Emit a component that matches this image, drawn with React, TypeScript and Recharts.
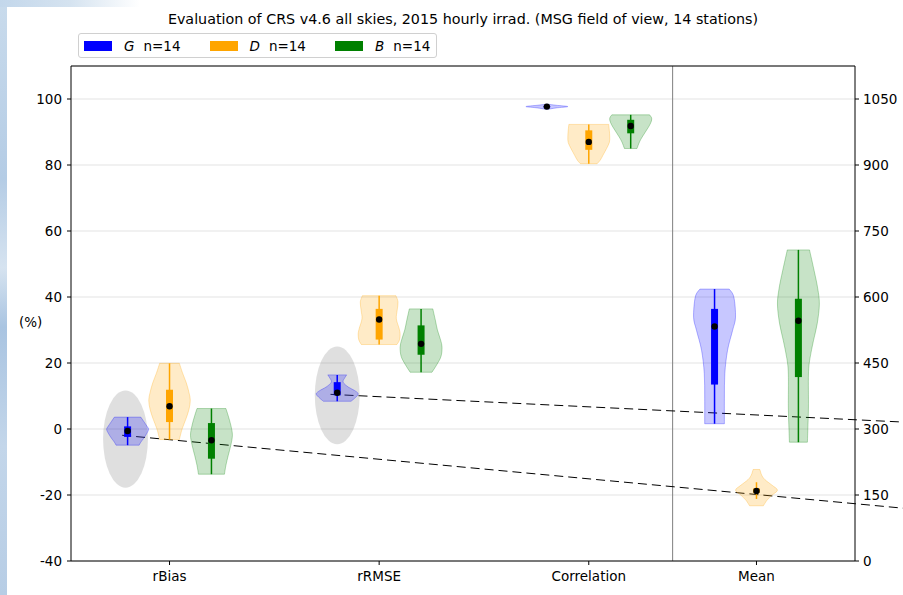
import React from 'react';
import { ComposedChart, XAxis, YAxis, CartesianGrid, Scatter, ReferenceLine } from 'recharts';

const FONT = '"DejaVu Sans", sans-serif';

const CATEGORIES = ['rBias', 'rRMSE', 'Correlation', 'Mean'];
const CATEGORY_POS = [1, 2, 3, 3.8];
const COMPONENTS = ['G', 'D', 'B'];
const COMPONENT_COLORS = ['#0000ff', '#ffa500', '#008000'];
const COMPONENT_SHIFT = [-0.2, 0, 0.2];
const STATIONS = [14, 14, 14];

const PCT_TICKS = [-40, -20, 0, 20, 40, 60, 80, 100];
const IRRAD_TICKS = [0, 150, 300, 450, 600, 750, 900, 1050];
const PCT_DOMAIN = [-40, 110];
const IRRAD_DOMAIN = [0, 1125];
const X_DOMAIN = [0.53, 4.27];
const PANEL_SPLIT = 3.4;
const VIOLIN_HALF_WIDTH = 0.1;

// per component (G, D, B): [min, q1, centre, q3, max]
const RBIAS_STATS = [
  [-4.9, -2.4, -0.6, 0.8, 3.6],
  [-3.2, 2.1, 6.9, 11.9, 19.9],
  [-13.7, -9.0, -3.4, 1.8, 6.2],
];
const RRMSE_STATS = [
  [8.4, 10.2, 11.0, 14.2, 16.4],
  [25.6, 27.1, 33.2, 36.4, 40.4],
  [17.2, 22.5, 25.8, 31.4, 36.4],
];
const CORR_STATS = [
  [97.2, 97.5, 97.7, 97.8, 98.1],
  [80.4, 84.6, 87.0, 90.5, 92.3],
  [85.0, 89.6, 91.8, 93.7, 95.2],
];
// W/m², right-hand axis
const MEAN_STATS = [
  [312, 401, 533, 573, 618],
  [141, 155, 159, 165, 179],
  [270, 418, 546, 596, 707],
];

// density outlines: [value, density relative to the widest point]
const RBIAS_KDE = [
  [[3.6, 0.63], [2.2, 0.78], [0.8, 0.93], [-0.1, 1.0], [-1.3, 0.92], [-2.8, 0.77], [-4.0, 0.63], [-4.9, 0.55]],
  [[19.9, 0.47], [17, 0.62], [14, 0.8], [11, 0.93], [8.7, 0.99], [6, 0.93], [3, 0.78], [0, 0.6], [-3.2, 0.47]],
  [[6.2, 0.69], [4, 0.8], [1, 0.93], [-1.9, 1.0], [-5, 0.92], [-8, 0.8], [-11, 0.69], [-13.7, 0.62]],
];
const RRMSE_KDE = [
  [[16.4, 0.45], [15.5, 0.36], [14.2, 0.28], [12.7, 0.53], [11.7, 0.82], [10.7, 1.0], [9.6, 0.88], [8.4, 0.66]],
  [[40.4, 0.8], [38.5, 0.9], [36, 0.86], [33.4, 0.82], [30.5, 0.95], [28.8, 1.0], [27, 0.97], [25.6, 0.85]],
  [[36.4, 0.56], [33, 0.68], [30, 0.78], [27, 0.93], [24.8, 1.0], [22, 0.95], [19.5, 0.75], [17.2, 0.52]],
];
const CORR_KDE = [
  [[98.4, 0.08], [98.1, 0.45], [97.7, 1.0], [97.3, 0.45], [96.9, 0.08]],
  [[92.3, 0.95], [90.5, 0.98], [88.5, 1.0], [86.8, 0.98], [85, 0.85], [83, 0.68], [81.5, 0.55], [80.4, 0.4]],
  [[95.2, 0.9], [94.2, 1.0], [93, 0.97], [91.5, 0.85], [90, 0.7], [88.5, 0.55], [87, 0.42], [85, 0.3]],
];
const MEAN_KDE = [
  [[618, 0.7], [600, 0.92], [554, 1.0], [524, 0.86], [479, 0.62], [426, 0.49], [370, 0.47], [312, 0.47]],
  [[208, 0.16], [195, 0.25], [184.6, 0.41], [172, 0.75], [161, 1.0], [150, 0.75], [138, 0.5], [125.5, 0.33]],
  [[707, 0.53], [660, 0.75], [620, 0.92], [584, 1.0], [540, 0.9], [501, 0.72], [460, 0.55], [425, 0.48], [350, 0.48], [300, 0.45], [270, 0.43]],
];

// station-spread ellipses behind the G violins: [x, centre, half range, half width]
const SPREAD_ELLIPSES = [
  [0.79, -3.05, 14.75, 0.107],
  [1.8, 10.2, 14.8, 0.107],
];

// dashed guides: [x1, y1, x2, y2] in axis units (left scale)
const GUIDE_LINES = [
  [0.774, -1.9, 4.5, -24.0],
  [1.768, 10.5, 4.5, 2.1],
];

const STATS = [RBIAS_STATS, RRMSE_STATS, CORR_STATS, MEAN_STATS];
const KDES = [RBIAS_KDE, RRMSE_KDE, CORR_KDE, MEAN_KDE];

type Pt = { x: number; y: number };

function smoothSegments(pts: Pt[]): string {
  let d = '';
  for (let i = 0; i < pts.length - 1; i++) {
    const p0 = pts[i - 1] || pts[i];
    const p1 = pts[i];
    const p2 = pts[i + 1];
    const p3 = pts[i + 2] || p2;
    const c1x = p1.x + (p2.x - p0.x) / 6;
    const c1y = p1.y + (p2.y - p0.y) / 6;
    const c2x = p2.x - (p3.x - p1.x) / 6;
    const c2y = p2.y - (p3.y - p1.y) / 6;
    d += ` C${c1x},${c1y} ${c2x},${c2y} ${p2.x},${p2.y}`;
  }
  return d;
}

function violinPath(pts: Pt[]): string {
  const n = pts.length / 2;
  const right = pts.slice(0, n);
  const left = pts.slice(n);
  return (
    `M${right[0].x},${right[0].y}` +
    smoothSegments(right) +
    ` L${left[0].x},${left[0].y}` +
    smoothSegments(left) +
    ' Z'
  );
}

const noMarker = () => <g />;

function axisFor(cat: number) {
  return cat === 3 ? 'right' : 0;
}

function App() {
  const layers: React.ReactNode[] = [];

  SPREAD_ELLIPSES.forEach(([x, c, h, w], i) => {
    const data = [
      { x, y: c + h },
      { x: x + w, y: c },
      { x, y: c - h },
      { x: x - w, y: c },
    ];
    layers.push(
      <Scatter
        key={`ell-${i}`}
        data={data}
        isAnimationActive={false}
        shape={noMarker}
        line={(p: any) => {
          const q = p.points;
          return (
            <ellipse
              cx={(q[1].x + q[3].x) / 2}
              cy={(q[0].y + q[2].y) / 2}
              rx={Math.abs(q[1].x - q[3].x) / 2}
              ry={Math.abs(q[2].y - q[0].y) / 2}
              fill="#808080"
              fillOpacity={0.25}
              stroke="none"
            />
          );
        }}
      />
    );
  });

  KDES.forEach((group, c) => {
    group.forEach((kde, s) => {
      const x0 = CATEGORY_POS[c] + COMPONENT_SHIFT[s];
      const right = kde.map(([v, d]) => ({ x: x0 + d * VIOLIN_HALF_WIDTH, y: v }));
      const left = kde.map(([v, d]) => ({ x: x0 - d * VIOLIN_HALF_WIDTH, y: v })).reverse();
      const color = COMPONENT_COLORS[s];
      layers.push(
        <Scatter
          key={`vio-${c}-${s}`}
          data={[...right, ...left]}
          yAxisId={axisFor(c)}
          isAnimationActive={false}
          shape={noMarker}
          line={(p: any) => (
            <path
              d={violinPath(p.points)}
              fill={color}
              fillOpacity={0.22}
              stroke={color}
              strokeOpacity={0.28}
              strokeWidth={1}
            />
          )}
        />
      );
    });
  });

  STATS.forEach((group, c) => {
    group.forEach(([mn, q1, , q3, mx], s) => {
      const x0 = CATEGORY_POS[c] + COMPONENT_SHIFT[s];
      const color = COMPONENT_COLORS[s];
      layers.push(
        <Scatter
          key={`wh-${c}-${s}`}
          data={[{ x: x0, y: mn }, { x: x0, y: mx }]}
          yAxisId={axisFor(c)}
          isAnimationActive={false}
          shape={noMarker}
          line={(p: any) => (
            <path
              d={`M${p.points[0].x},${p.points[0].y} L${p.points[1].x},${p.points[1].y}`}
              stroke={color}
              strokeWidth={1.5}
              fill="none"
            />
          )}
        />
      );
      layers.push(
        <Scatter
          key={`box-${c}-${s}`}
          data={[{ x: x0, y: q1 }, { x: x0, y: q3 }]}
          yAxisId={axisFor(c)}
          isAnimationActive={false}
          shape={noMarker}
          line={(p: any) => (
            <path
              d={`M${p.points[0].x},${p.points[0].y} L${p.points[1].x},${p.points[1].y}`}
              stroke={color}
              strokeWidth={7}
              fill="none"
            />
          )}
        />
      );
    });
  });

  const dot = (p: any) => <circle cx={p.cx} cy={p.cy} r={3.2} fill="#000" />;
  const pctCentres: Pt[] = [];
  const irradCentres: Pt[] = [];
  STATS.forEach((group, c) => {
    group.forEach((st, s) => {
      const pt = { x: CATEGORY_POS[c] + COMPONENT_SHIFT[s], y: st[2] };
      (c === 3 ? irradCentres : pctCentres).push(pt);
    });
  });
  layers.push(
    <Scatter key="dots-pct" data={pctCentres} isAnimationActive={false} shape={dot} />
  );
  layers.push(
    <Scatter key="dots-irrad" data={irradCentres} yAxisId="right" isAnimationActive={false} shape={dot} />
  );

  const tickStyle = { fill: '#000', fontSize: 13.5, fontFamily: FONT };

  return (
    <div
      style={{
        position: 'absolute',
        left: 0,
        top: 0,
        width: 903,
        height: 595,
        background: '#fff',
        fontFamily: FONT,
        overflow: 'hidden',
      }}
    >
      <div
        style={{
          position: 'absolute',
          left: 0,
          top: 0,
          width: 7,
          height: 595,
          background:
            'linear-gradient(to bottom, #c9dbec 0%, #b4cce5 30%, #d6e3f0 45%, #a9c4e1 55%, #c3d6ea 75%, #b7cde5 100%)',
        }}
      />
      <div
        style={{
          position: 'absolute',
          left: 0,
          top: 0,
          width: 140,
          height: 7,
          background: 'linear-gradient(to right, #c3d7eb 0%, #d5e3f0 50%, rgba(255,255,255,0) 100%)',
        }}
      />
      <div
        style={{
          position: 'absolute',
          left: 71,
          width: 784,
          top: 10,
          textAlign: 'center',
          fontSize: 14.3,
          lineHeight: '18px',
          color: '#000',
          whiteSpace: 'nowrap',
        }}
      >
        Evaluation of CRS v4.6 all skies, 2015 hourly irrad. (MSG field of view, 14 stations)
      </div>
      <div
        style={{
          position: 'absolute',
          left: 78,
          top: 33,
          width: 359,
          height: 25,
          border: '1px solid #d0d0d0',
          borderRadius: 3,
          background: '#fff',
          boxSizing: 'border-box',
          fontSize: 13.5,
          color: '#000',
        }}
      >
        {COMPONENTS.map((name, i) => (
          <div
            key={name}
            style={{
              position: 'absolute',
              left: 5 + i * 125.5,
              top: 0,
              height: 23,
              display: 'flex',
              alignItems: 'center',
              whiteSpace: 'nowrap',
            }}
          >
            <span style={{ display: 'inline-block', width: 28, height: 10, background: COMPONENT_COLORS[i] }} />
            <span style={{ fontStyle: 'italic', marginLeft: 12 }}>{name}</span>
            <span style={{ marginLeft: 9 }}>n={STATIONS[i]}</span>
          </div>
        ))}
      </div>
      <div style={{ position: 'absolute', left: 19, top: 314, fontSize: 13.5, color: '#000' }}>(%)</div>
      <div style={{ position: 'absolute', left: 0, top: 0 }}>
        <ComposedChart width={903} height={595} margin={{ top: 66, right: 0, bottom: 4, left: 21 }}>
          <CartesianGrid horizontal vertical={false} stroke="#e3e3e3" strokeWidth={1} />
          <XAxis
            type="number"
            dataKey="x"
            domain={X_DOMAIN}
            allowDataOverflow
            ticks={CATEGORY_POS}
            interval={0}
            tickFormatter={(v: number) => CATEGORIES[CATEGORY_POS.indexOf(v)]}
            height={30}
            tickSize={4}
            tickMargin={6}
            axisLine={{ stroke: '#000' }}
            tickLine={{ stroke: '#000' }}
            tick={tickStyle}
          />
          <YAxis
            type="number"
            dataKey="y"
            domain={PCT_DOMAIN}
            allowDataOverflow
            ticks={PCT_TICKS}
            interval={0}
            width={50}
            tickSize={4}
            tickMargin={5}
            axisLine={{ stroke: '#000' }}
            tickLine={{ stroke: '#000' }}
            tick={tickStyle}
          />
          <YAxis
            yAxisId="right"
            orientation="right"
            type="number"
            dataKey="y"
            domain={IRRAD_DOMAIN}
            allowDataOverflow
            ticks={IRRAD_TICKS}
            interval={0}
            width={48}
            tickSize={4}
            tickMargin={4}
            axisLine={{ stroke: '#000' }}
            tickLine={{ stroke: '#000' }}
            tick={{ ...tickStyle, textAnchor: 'start' }}
          />
          {layers}
          <ReferenceLine x={PANEL_SPLIT} stroke="#7f7f7f" strokeWidth={1} />
          <ReferenceLine y={PCT_DOMAIN[1]} stroke="#000" strokeWidth={1} />
          {GUIDE_LINES.map(([x1, y1, x2, y2], i) => (
            <ReferenceLine
              key={`guide-${i}`}
              segment={[{ x: x1, y: y1 }, { x: x2, y: y2 }]}
              ifOverflow="visible"
              stroke="#000"
              strokeWidth={1}
              strokeDasharray="9 5"
            />
          ))}
        </ComposedChart>
      </div>
    </div>
  );
}

export default App;
